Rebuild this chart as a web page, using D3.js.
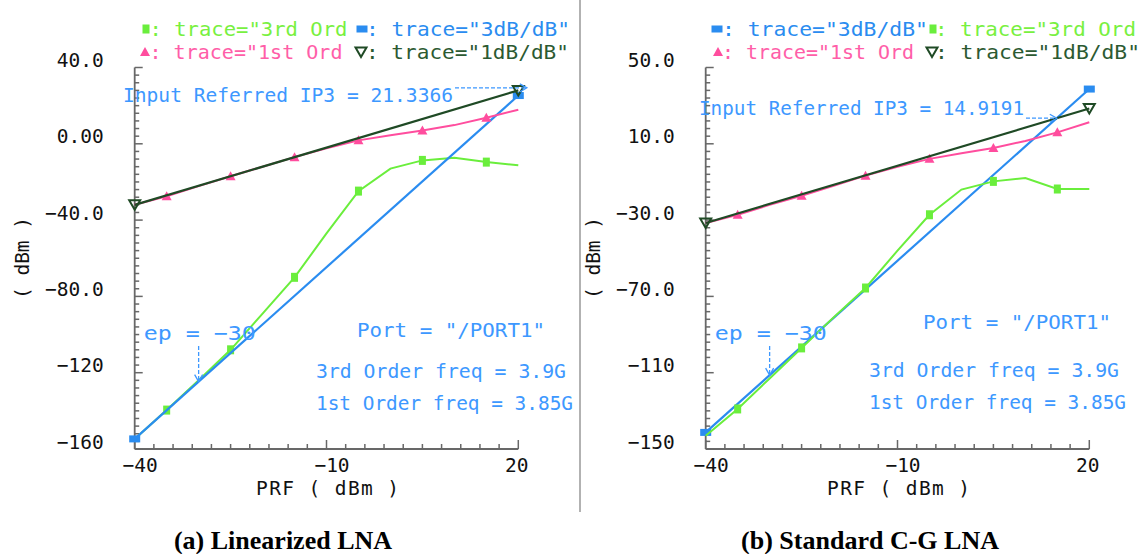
<!DOCTYPE html>
<html lang="en">
<head>
<meta charset="utf-8">
<script src="https://d3js.org/d3.v7.min.js"></script>
<style>
body { margin: 0; background: #fff; }
svg { display: block; }
text { font-family: "DejaVu Sans Mono", monospace; }
.cap { font-family: "Liberation Serif", "Times New Roman", serif; font-weight: bold; }
</style>
</head>
<body>
<svg id="chart" width="1146" height="554"></svg>
<script>
// input power sweep, dBm
const prf = [-40, -35, -30, -25, -20, -15, -10, -5, 0, 5, 10, 15, 20];
const markerPrf = [-35, -25, -15, -5, 5, 15];
const fitPrf = [-40, 20];
const xTicks = [-40, -10, 20];
const xLabels = ["−40", "−10", "20"];

// (a) linearized LNA
const aThird = [-154.7, -139.6, -124, -108, -89, -70, -47, -24.8, -13, -8.7, -7.3, -9.6, -11.3];
const aFirst = [-32, -27.5, -22.2, -17, -12, -7, -2.3, 1.8, 4.5, 7, 9.8, 13.7, 17.9];
const aFit3 = [-154.7, 25.3];
const aFit1 = [-32, 28];
const aYTicks = [40, 0, -40, -80, -120, -160];
const aYLabels = ["40.0", "0.00", "−40.0", "−80.0", "−120", "−160"];
const aIp3 = [21.3366, 29.34];
const aEp = [-30, -124.7];

// (b) standard C-G LNA
const bThird = [-143, -129, -113, -97, -81, -65.6, -46, -27.2, -14, -9.7, -7.9, -13.7, -13.7];
const bFirst = [-31.5, -27.2, -22, -17.2, -12, -6.7, -2, 2.1, 5, 7.8, 11.5, 16, 21.3];
const bFit3 = [-141.3, 38.7];
const bFit1 = [-31.5, 28.5];
const bYTicks = [50, 10, -30, -70, -110, -150];
const bYLabels = ["50.0", "10.0", "−30.0", "−70.0", "−110", "−150"];
const bIp3 = [14.9191, 23.42];
const bEp = [-30, -111.3];

const C = {
  third: "#6aee3c", fit3: "#2a8cf0", first: "#ff4d9e", fit1: "#1f4a25",
  note: "#3d98ff", thirdTxt: "#78f040", firstTxt: "#ff5ea8", fit1Txt: "#2c5a32", axis: "#686868"
};

const svg = d3.select("#chart");

svg.append("line").attr("x1", 580).attr("x2", 580).attr("y1", 0).attr("y2", 512)
  .attr("stroke", "#999").attr("stroke-width", 1.5);

function marker(g, kind, cx, cy) {
  if (kind === "third") {
    g.append("rect").attr("x", cx - 3.5).attr("y", cy - 4.5).attr("width", 7).attr("height", 9).attr("fill", C.third);
  } else if (kind === "fit3") {
    g.append("rect").attr("x", cx - 5.5).attr("y", cy - 3.5).attr("width", 11).attr("height", 7).attr("fill", C.fit3);
  } else if (kind === "first") {
    g.append("path").attr("d", `M${cx - 5},${cy + 4}L${cx + 5},${cy + 4}L${cx},${cy - 5}Z`).attr("fill", C.first);
  } else {
    g.append("path").attr("d", `M${cx - 5.5},${cy - 4.5}L${cx + 5.5},${cy - 4.5}L${cx},${cy + 5}Z`)
      .attr("fill", "none").attr("stroke", C.fit1).attr("stroke-width", 2);
  }
}

function note(g, str, x0, yc, w, color) {
  g.append("text").attr("x", x0).attr("y", yc).attr("dominant-baseline", "central")
    .attr("font-size", 19.5).attr("fill", color || C.note)
    .attr("textLength", w).attr("lengthAdjust", "spacingAndGlyphs").text(str);
}

function panel(p) {
  const g = svg.append("g");
  const x = d3.scaleLinear().domain([-40, 20]).range([p.left, p.left + 383.6]);
  const y = d3.scaleLinear().domain([p.yTicks[5], p.yTicks[0]]).range([449, 67.5]);

  // frame lines and inward ticks, placed by the scales
  const ax = g.append("g");
  ax.append("line").attr("x1", x(-40)).attr("x2", x(-40)).attr("y1", y.range()[0]).attr("y2", y.range()[1])
    .attr("stroke", C.axis).attr("stroke-width", 1.8);
  ax.append("line").attr("x1", x(-40)).attr("x2", x(20)).attr("y1", y.range()[0]).attr("y2", y.range()[0])
    .attr("stroke", C.axis).attr("stroke-width", 1.8);
  const yMinor = d3.range(p.yTicks[5], p.yTicks[0] + 0.1, 4);
  ax.selectAll(".ym").data(yMinor).join("line")
    .attr("x1", x(-40)).attr("x2", d => x(-40) + (p.yTicks.includes(d) ? 8 : 4.5))
    .attr("y1", d => y(d)).attr("y2", d => y(d)).attr("stroke", C.axis).attr("stroke-width", 1.5);
  const xMinor = d3.range(-40, 20.1, 3);
  ax.selectAll(".xm").data(xMinor).join("line")
    .attr("x1", d => x(d)).attr("x2", d => x(d))
    .attr("y1", y.range()[0]).attr("y2", d => y.range()[0] - (xTicks.includes(d) ? 9 : 5))
    .attr("stroke", C.axis).attr("stroke-width", 1.5);

  // tick labels through d3 axes (their own lines removed)
  g.append("g").attr("class", "ya").attr("transform", `translate(${p.left},0)`)
    .call(d3.axisLeft(y).tickValues(p.yTicks).tickSize(0).tickPadding(31)
      .tickFormat((d, i) => p.yLabels[i]));
  g.append("g").attr("class", "xa").attr("transform", "translate(0,449)")
    .call(d3.axisBottom(x).tickValues(xTicks).tickSize(0).tickPadding(9)
      .tickFormat((d, i) => xLabels[i]));
  g.selectAll(".ya .domain, .xa .domain, .ya .tick line, .xa .tick line").remove();

  g.selectAll(".tick text").attr("font-family", "DejaVu Sans Mono").attr("font-size", 19.5).attr("fill", "#111");
  g.selectAll(".ya .tick text").attr("dy", "-0.05em");
  g.selectAll(".xa .tick text").attr("dx", d => d < 0 ? 5 : -2);

  // axis titles
  g.append("text").attr("transform", `translate(${p.left - 112},258) rotate(-90)`)
    .attr("text-anchor", "middle").attr("dominant-baseline", "central")
    .attr("font-size", 19.5).attr("fill", "#111").text("( dBm )");
  g.append("text").attr("x", x(-10) + 1).attr("y", 488).attr("text-anchor", "middle").attr("dominant-baseline", "central")
    .attr("font-size", 19.5).attr("fill", "#111").attr("textLength", 143).text("PRF ( dBm )");

  const line = d3.line().x((d, i) => x(prf[i])).y(d => y(d));
  const fit = d3.line().x((d, i) => x(fitPrf[i])).y(d => y(d));

  const traces = {
    third: () => {
      g.append("path").attr("d", line(p.third)).attr("fill", "none").attr("stroke", C.third).attr("stroke-width", 2);
      markerPrf.forEach(v => marker(g, "third", x(v), y(p.third[prf.indexOf(v)])));
    },
    fit3: () => {
      g.append("path").attr("d", fit(p.fit3)).attr("fill", "none").attr("stroke", C.fit3).attr("stroke-width", 2.2);
      fitPrf.forEach((v, i) => marker(g, "fit3", x(v), y(p.fit3[i])));
    },
    first: () => {
      g.append("path").attr("d", line(p.first)).attr("fill", "none").attr("stroke", C.first).attr("stroke-width", 2);
      markerPrf.forEach(v => marker(g, "first", x(v), y(p.first[prf.indexOf(v)])));
    },
    fit1: () => {
      g.append("path").attr("d", fit(p.fit1)).attr("fill", "none").attr("stroke", C.fit1).attr("stroke-width", 2.2);
      fitPrf.forEach((v, i) => marker(g, "fit1", x(v), y(p.fit1[i])));
    }
  };
  p.order.forEach(k => traces[k]());

  // legend
  const legColor = { third: C.thirdTxt, fit3: C.fit3, first: C.firstTxt, fit1: C.fit1Txt };
  const legText = { third: ': trace="3rd Ord', fit3: ': trace="3dB/dB"', first: ': trace="1st Ord', fit1: ': trace="1dB/dB"' };
  p.legend.forEach(l => {
    marker(g, l.k, l.mx, l.y);
    g.append("text").attr("x", l.tx).attr("y", l.y).attr("dominant-baseline", "central")
      .attr("font-size", 19.5).attr("fill", legColor[l.k])
      .attr("textLength", l.w).attr("lengthAdjust", "spacingAndGlyphs").text(legText[l.k]);
  });

  // IP3 marker
  const ipx = x(p.ip3[0]), ipy = y(p.ip3[1]);
  note(g, "Input Referred IP3 = " + p.ip3Label, p.ipText[0], p.ipText[1], p.ipText[2]);
  const sx = p.ipText[0] + p.ipText[2] + 2;
  g.append("line").attr("x1", sx).attr("x2", ipx).attr("y1", ipy).attr("y2", ipy)
    .attr("stroke", C.note).attr("stroke-width", 1.3).attr("stroke-dasharray", "4,2");
  g.append("path").attr("d", `M${ipx - 7},${ipy - 4}L${ipx},${ipy}L${ipx - 7},${ipy + 4}`)
    .attr("fill", "none").attr("stroke", C.note).attr("stroke-width", 1.3);

  // sweep point marker
  const epx = x(p.ep[0]), epy = y(p.ep[1]);
  note(g, "ep = −30", p.left + 9, 333, 112);
  g.append("line").attr("x1", epx).attr("x2", epx).attr("y1", 346).attr("y2", epy)
    .attr("stroke", C.note).attr("stroke-width", 1.3).attr("stroke-dasharray", "4,2");
  g.append("path").attr("d", `M${epx - 4},${epy - 7}L${epx},${epy}L${epx + 4},${epy - 7}`)
    .attr("fill", "none").attr("stroke", C.note).attr("stroke-width", 1.3);

  note(g, 'Port = "/PORT1"', p.port[0], p.port[1], 188);
  note(g, "3rd Order freq = 3.9G", p.f3[0], p.f3[1], 250);
  note(g, "1st Order freq = 3.85G", p.f3[0], p.f3[1] + 32, 257);

  svg.append("text").attr("class", "cap").attr("x", p.cap[0]).attr("y", p.cap[1])
    .attr("text-anchor", "middle").attr("dominant-baseline", "central")
    .attr("font-size", 26).attr("fill", "#000").text(p.caption);
}

panel({
  left: 134.7, yTicks: aYTicks, yLabels: aYLabels,
  third: aThird, first: aFirst, fit3: aFit3, fit1: aFit1,
  order: ["third", "fit3", "first", "fit1"],
  legend: [
    { k: "third", mx: 146, y: 29, tx: 149.5, w: 198 },
    { k: "fit3", mx: 362, y: 29, tx: 366, w: 204 },
    { k: "first", mx: 145, y: 52, tx: 149.5, w: 193 },
    { k: "fit1", mx: 361, y: 52, tx: 366, w: 203 }
  ],
  ip3: aIp3, ip3Label: "21.3366", ipText: [123, 95, 330],
  ep: aEp, port: [357, 330], f3: [316, 371],
  cap: [283, 540], caption: "(a) Linearized LNA"
});

panel({
  left: 705.7, yTicks: bYTicks, yLabels: bYLabels,
  third: bThird, first: bFirst, fit3: bFit3, fit1: bFit1,
  order: ["fit3", "third", "first", "fit1"],
  legend: [
    { k: "fit3", mx: 717, y: 29, tx: 722, w: 206 },
    { k: "third", mx: 933, y: 29, tx: 935, w: 201 },
    { k: "first", mx: 718, y: 52, tx: 722, w: 192 },
    { k: "fit1", mx: 932, y: 52, tx: 935, w: 205 }
  ],
  ip3: bIp3, ip3Label: "14.9191", ipText: [699, 108, 325],
  ep: bEp, port: [923, 322], f3: [869, 370],
  cap: [870, 540], caption: "(b) Standard C-G LNA"
});
</script>
</body>
</html>
